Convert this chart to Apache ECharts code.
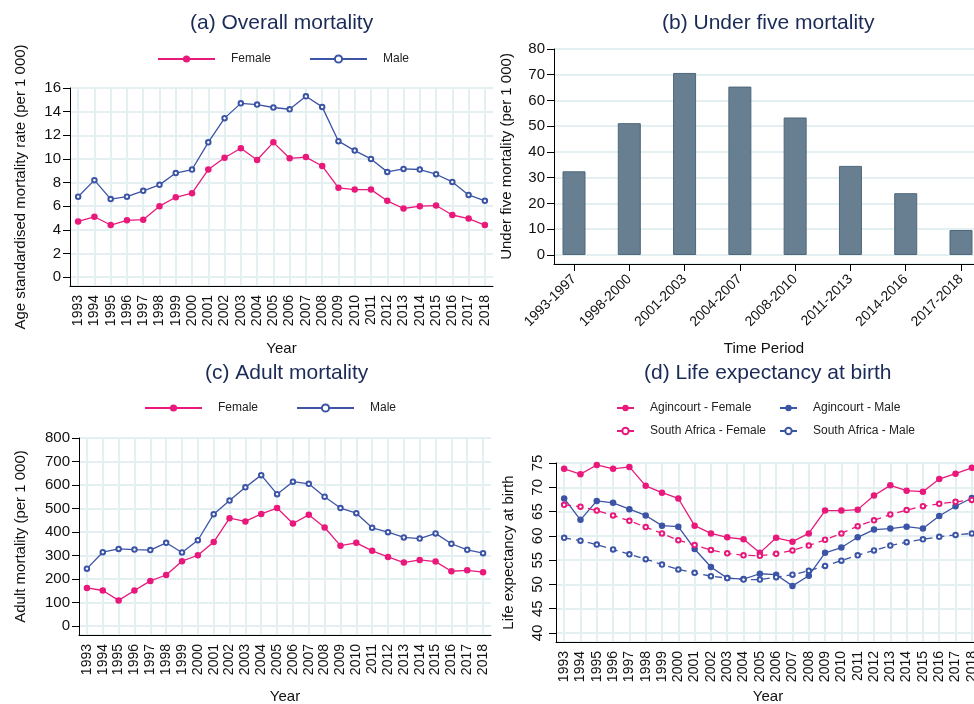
<!DOCTYPE html>
<html>
<head>
<meta charset="utf-8">
<script src="https://cdn.jsdelivr.net/npm/echarts@6/dist/echarts.min.js"></script>
<style>
html, body { margin: 0; padding: 0; background: #fff; }
#main { width: 974px; height: 704px; }
</style>
</head>
<body>
<div id="main"></div>
<script>
// categories
var years = ['1993', '1994', '1995', '1996', '1997', '1998', '1999', '2000', '2001', '2002', '2003', '2004', '2005',
    '2006', '2007', '2008', '2009', '2010', '2011', '2012', '2013', '2014', '2015', '2016', '2017', '2018'];
var periods = ['1993-1997', '1998-2000', '2001-2003', '2004-2007', '2008-2010', '2011-2013', '2014-2016', '2017-2018'];

// (a) overall mortality, per 1 000
var overallFemale = [4.7, 5.1, 4.4, 4.8, 4.85, 6.0, 6.75, 7.1, 9.1, 10.1, 10.9, 9.9, 11.4, 10.05, 10.15, 9.4,
    7.55, 7.4, 7.4, 6.45, 5.8, 6.0, 6.05, 5.25, 4.95, 4.4];
var overallMale = [6.8, 8.2, 6.6, 6.8, 7.3, 7.8, 8.8, 9.1, 11.4, 13.45, 14.7, 14.6, 14.35, 14.2, 15.3, 14.4,
    11.5, 10.7, 10.0, 8.9, 9.15, 9.1, 8.7, 8.05, 6.95, 6.45];

// (b) under five mortality
var underFive = [32.5, 51.2, 70.7, 65.4, 53.4, 34.6, 24.0, 9.7];

// (c) adult mortality
var adultFemale = [162, 151, 109, 151, 192, 217, 276, 301, 357, 459, 445, 477, 502, 436, 473, 419,
    342, 354, 320, 294, 270, 281, 274, 233, 237, 229];
var adultMale = [244, 314, 328, 325, 323, 354, 313, 365, 476, 534, 590, 642, 561, 614, 605, 550,
    502, 480, 418, 399, 377, 372, 394, 350, 324, 310];

// (d) life expectancy at birth
var agincourtFemale = [73.8, 72.7, 74.6, 73.8, 74.2, 70.3, 68.9, 67.7, 62.1, 60.5, 59.7, 59.3, 56.5, 59.6, 58.8, 60.5,
    65.2, 65.2, 65.4, 68.3, 70.4, 69.3, 69.1, 71.7, 72.8, 74.0];
var agincourtMale = [67.7, 63.3, 67.2, 66.8, 65.5, 64.2, 62.1, 61.9, 57.3, 53.6, 51.3, 51.1, 52.2, 52.0, 49.7, 51.8,
    56.5, 57.6, 59.7, 61.3, 61.5, 61.9, 61.5, 64.1, 66.1, 67.8];
var saFemale = [66.4, 66.0, 65.2, 64.2, 63.1, 61.8, 60.5, 59.1, 58.1, 57.1, 56.4, 56.0, 55.9, 56.3, 57.0, 58.0,
    59.2, 60.5, 62.0, 63.2, 64.4, 65.3, 66.1, 66.6, 67.0, 67.4];
var saMale = [59.6, 59.0, 58.2, 57.2, 56.2, 55.2, 54.1, 53.1, 52.4, 51.7, 51.3, 51.0, 51.0, 51.5, 52.0, 52.8,
    53.8, 54.9, 56.0, 57.0, 58.0, 58.7, 59.3, 59.8, 60.2, 60.5];

var FONT = "'Liberation Sans', Arial, Helvetica, sans-serif";
var PINK = '#e8197b', BLUE = '#3b54a6', GRIDC = '#e4eff2', NAVY = '#1b2b57';

var chart = echarts.init(document.getElementById('main'));
var measure = document.createElement('canvas').getContext('2d');

function title(text, cx, top) {
    measure.font = '21px ' + FONT;
    return {
        text: text, left: Math.round(cx - measure.measureText(text).width / 2), top: top, padding: 0,
        textStyle: {fontFamily: FONT, fontSize: 21, fontWeight: 'normal', color: NAVY}
    };
}

function nameStyle() {
    return {fontFamily: FONT, fontSize: 15, color: '#111'};
}

function yearAxis(grid, gap) {
    return {
        type: 'category', gridIndex: grid, data: years, boundaryGap: true,
        name: 'Year', nameLocation: 'middle', nameGap: gap, nameTextStyle: nameStyle(),
        axisLine: {onZero: false, lineStyle: {color: '#000', width: 1}},
        axisTick: {alignWithLabel: true, length: 6, lineStyle: {color: '#000'}},
        axisLabel: {interval: 0, rotate: 90, margin: 9, fontFamily: FONT, fontSize: 14, color: '#111'},
        splitLine: {show: true, alignWithLabel: true, lineStyle: {color: GRIDC, width: 2}}
    };
}

function valueAxis(grid, min, max, name, gap, rot) {
    return {
        type: 'value', gridIndex: grid, min: min, max: max, splitNumber: 8,
        name: name, nameLocation: 'middle', nameGap: gap, nameTextStyle: nameStyle(),
        axisLine: {show: true, onZero: false, lineStyle: {color: '#000', width: 1}},
        axisTick: {show: true, length: 7, lineStyle: {color: '#000'}},
        axisLabel: {showMinLabel: false, rotate: rot || 0, margin: rot ? 11 : 9,
            fontFamily: FONT, fontSize: 15, color: '#111'},
        splitLine: {show: true, lineStyle: {color: GRIDC, width: 2}}
    };
}

function sexLegend(left, top) {
    return {
        left: left, top: top, padding: 0, itemWidth: 57, itemHeight: 9, itemGap: 38, selectedMode: false,
        textStyle: {fontFamily: FONT, fontSize: 12, color: '#222', padding: [0, 0, 0, 11]},
        data: ['Female', 'Male']
    };
}

function lifeLegend(left, names) {
    return {
        left: left, top: 402, orient: 'vertical', padding: 0, itemWidth: 17, itemHeight: 8, itemGap: 11,
        selectedMode: false,
        textStyle: {fontFamily: FONT, fontSize: 12, color: '#222', padding: [0, 0, 0, 11]},
        data: names
    };
}

function line(name, x, data, color, hollow, dashed) {
    return {
        type: 'line', name: name, xAxisIndex: x, yAxisIndex: x, data: data,
        symbol: hollow ? 'emptyCircle' : 'circle', symbolSize: hollow ? 4.5 : 6.5,
        itemStyle: {color: color, borderWidth: hollow ? 1 : 0},
        lineStyle: {color: color, width: 1.3, type: dashed ? [7, 5] : 'solid'},
        emphasis: {disabled: true}
    };
}

chart.setOption({
    animation: false,
    backgroundColor: '#fff',
    title: [
        title('(a) Overall mortality', 282, 13),
        title('(b) Under five mortality', 768, 13),
        title('(c) Adult mortality', 287, 363),
        title('(d) Life expectancy at birth', 768, 363)
    ],
    legend: [
        sexLegend(157, 53),
        sexLegend(144, 402),
        lifeLegend(616, ['Agincourt - Female', 'South Africa - Female']),
        lifeLegend(779, ['Agincourt - Male', 'South Africa - Male'])
    ],
    grid: [
        {left: 70, top: 88, right: 481, bottom: 418, outerBoundsMode: 'none'},
        {left: 554, top: 49, right: 0, bottom: 440, outerBoundsMode: 'none'},
        {left: 79, top: 438, right: 483, bottom: 69, outerBoundsMode: 'none'},
        {left: 556, top: 463, right: -6, bottom: 62, outerBoundsMode: 'none'}
    ],
    xAxis: [
        yearAxis(0, 55),
        {
            type: 'value', gridIndex: 1, min: -0.362, max: 7.235, splitNumber: 8,
            name: 'Time Period', nameLocation: 'middle', nameGap: 77, nameTextStyle: nameStyle(),
            axisLine: {show: true, onZero: false, lineStyle: {color: '#000', width: 1}},
            axisTick: {show: true, length: 7, lineStyle: {color: '#000'}},
            axisLabel: {showMinLabel: false, showMaxLabel: false, rotate: 45, margin: 13,
                fontFamily: FONT, fontSize: 14, color: '#111',
                formatter: function (v) { return periods[v] || ''; }},
            splitLine: {show: false}
        },
        yearAxis(2, 54),
        yearAxis(3, 47)
    ],
    yAxis: [
        valueAxis(0, -0.76, 16, 'Age standardised mortality rate (per 1 000)', 42),
        valueAxis(1, -3.5, 80, 'Under five mortality (per 1 000)', 40),
        valueAxis(2, -38.3, 800, 'Adult mortality (per 1 000)', 51),
        valueAxis(3, 38.15, 75, 'Life expectancy at birth', 40, 90)
    ],
    series: [
        line('Female', 0, overallFemale, PINK, false),
        line('Male', 0, overallMale, BLUE, true),
        {
            type: 'bar', name: 'Under five', xAxisIndex: 1, yAxisIndex: 1, barWidth: 23,
            data: underFive.map(function (v, i) { return [i, v]; }),
            itemStyle: {color: '#687f91', borderColor: '#4e677a', borderWidth: 1},
            emphasis: {disabled: true}
        },
        line('Female', 2, adultFemale, PINK, false),
        line('Male', 2, adultMale, BLUE, true),
        line('Agincourt - Female', 3, agincourtFemale, PINK, false),
        line('Agincourt - Male', 3, agincourtMale, BLUE, false),
        line('South Africa - Female', 3, saFemale, PINK, true, true),
        line('South Africa - Male', 3, saMale, BLUE, true, true)
    ]
});
</script>
</body>
</html>
